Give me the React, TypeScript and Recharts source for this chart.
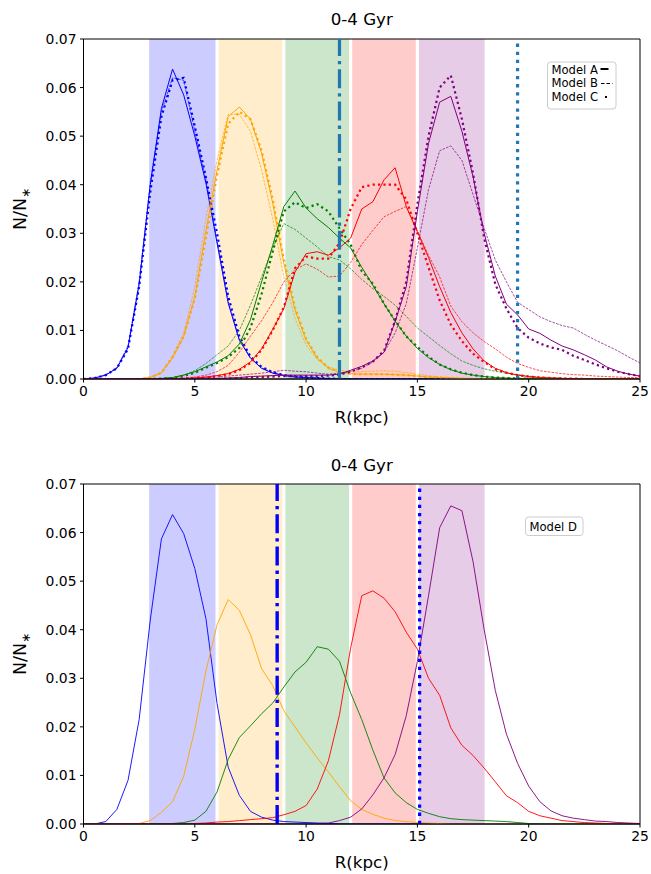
import React from 'react';
import { LineChart, Line, XAxis, YAxis, ReferenceArea, ReferenceLine } from 'recharts';

// radius grid (kpc)
const R = [0,0.5,1,1.5,2,2.5,3,3.5,4,4.5,5,5.5,6,6.5,7,7.5,8,8.5,9,9.5,10,10.5,11,11.5,12,12.5,13,13.5,14,14.5,15,15.5,16,16.5,17,17.5,18,18.5,19,19.5,20,20.5,21,21.5,22,22.5,23,23.5,24,24.5,25];

// ---------- top panel: Models A (solid), B (dashed), C (dotted) ----------
const blueA = [0,0.0002,0.0008,0.0022,0.0065,0.0195,0.040,0.0557,0.0638,0.0585,
  0.050,0.0403,0.028,0.0156,0.008,0.0043,0.0022,0.0012,0.0007,0.0004,
  0.0003,0.0002,0.0001,0,0,0,0,0,0,0, 0,0,0,0,0,0,0,0,0,0, 0,0,0,0,0,0,0,0,0,0, 0];
const blueB = [0,0.0002,0.0009,0.0024,0.0068,0.020,0.0405,0.055,0.062,0.0615,
  0.051,0.041,0.0285,0.016,0.0082,0.0044,0.0023,0.0013,0.0008,0.0005,
  0.0003,0.0002,0.0001,0,0,0,0,0,0,0, 0,0,0,0,0,0,0,0,0,0, 0,0,0,0,0,0,0,0,0,0, 0];
const blueC = [0,0.0002,0.0008,0.0022,0.0062,0.019,0.0385,0.054,0.0615,0.062,
  0.052,0.0415,0.030,0.017,0.0088,0.0046,0.0025,0.0014,0.0008,0.0005,
  0.0003,0.0002,0.0001,0,0,0,0,0,0,0, 0,0,0,0,0,0,0,0,0,0, 0,0,0,0,0,0,0,0,0,0, 0];

const orangeA = [0,0,0,0,0,0,0.0003,0.0012,0.0043,0.0087,
  0.017,0.0305,0.043,0.054,0.056,0.0535,0.0465,0.0362,0.0238,0.0142,
  0.008,0.0043,0.0022,0.0014,0.0011,0.001,0.001,0.001,0.0009,0.0008,
  0.0006,0.0004,0.0003,0.0002,0.0001,0,0,0,0,0, 0,0,0,0,0,0,0,0,0,0, 0];
const orangeB = [0,0,0,0,0,0,0.0004,0.0014,0.0048,0.0095,
  0.019,0.033,0.045,0.0545,0.0545,0.051,0.043,0.033,0.021,0.0125,
  0.007,0.004,0.0025,0.0018,0.0015,0.0015,0.0016,0.0017,0.0016,0.0013,
  0.001,0.0007,0.0004,0.0003,0.0002,0.0001,0,0,0,0, 0,0,0,0,0,0,0,0,0,0, 0];
const orangeC = [0,0,0,0,0,0,0.0003,0.0013,0.0045,0.0088,
  0.0165,0.029,0.042,0.0525,0.055,0.0535,0.047,0.037,0.0245,0.0148,
  0.0083,0.0045,0.0023,0.0014,0.0011,0.001,0.001,0.001,0.0009,0.0008,
  0.0006,0.0004,0.0003,0.0002,0.0001,0,0,0,0,0, 0,0,0,0,0,0,0,0,0,0, 0];

const greenA = [0,0,0,0,0,0,0,0.0001,0.0003,0.0008,
  0.0015,0.0025,0.0035,0.0048,0.0072,0.0122,0.020,0.0275,0.0355,0.0387,
  0.0352,0.033,0.0312,0.029,0.027,0.023,0.0193,0.0155,0.0119,0.0088,
  0.0063,0.0044,0.003,0.0019,0.0012,0.0008,0.0005,0.0003,0.0002,0.0001,
  0.0001,0,0,0,0,0,0,0,0,0, 0];
const greenB = [0,0,0,0,0,0,0,0.0001,0.0003,0.0008,
  0.0017,0.0032,0.005,0.0068,0.010,0.0152,0.021,0.027,0.032,0.0308,
  0.029,0.0272,0.0252,0.0245,0.0227,0.0205,0.0186,0.017,0.0152,0.0129,
  0.0105,0.0087,0.0069,0.0052,0.0037,0.0028,0.0021,0.0016,0.0012,0.0009,
  0.0006,0.0004,0.0003,0.0002,0.0001,0,0,0,0,0, 0];
const greenC = [0,0,0,0,0,0,0,0.0001,0.0002,0.0006,
  0.0013,0.0023,0.0033,0.0045,0.0064,0.0105,0.0175,0.0262,0.0345,0.0364,
  0.0352,0.036,0.0345,0.031,0.0277,0.0222,0.0196,0.0155,0.012,0.0088,
  0.0066,0.0046,0.003,0.002,0.0013,0.0008,0.0005,0.0003,0.0002,0.0001,
  0.0001,0,0,0,0,0,0,0,0,0, 0];

const redA = [0,0,0,0,0,0,0,0,0,0.0001,
  0.0002,0.0004,0.0007,0.0011,0.002,0.0035,0.0062,0.0102,0.0145,0.022,
  0.0258,0.0262,0.0255,0.027,0.029,0.035,0.0365,0.041,0.0435,0.0355,
  0.0303,0.025,0.019,0.0137,0.0095,0.0062,0.0037,0.0022,0.0013,0.0008,
  0.0005,0.0003,0.0002,0.0001,0.0001,0,0,0,0,0, 0];
const redB = [0,0,0,0,0,0,0,0,0.0001,0.0002,
  0.0004,0.0008,0.0015,0.0028,0.0055,0.0088,0.012,0.0157,0.020,0.0225,
  0.0237,0.0226,0.021,0.0212,0.024,0.0277,0.0306,0.0334,0.0345,0.0355,
  0.0305,0.0255,0.021,0.015,0.0118,0.0095,0.0077,0.0062,0.0045,0.0032,
  0.0024,0.0017,0.0014,0.0011,0.0009,0.0008,0.0006,0.0005,0.0004,0.0003,
  0.0003];
const redC = [0,0,0,0,0,0,0,0,0,0.0001,
  0.0002,0.0003,0.0006,0.001,0.0018,0.0033,0.006,0.010,0.0148,0.0228,
  0.0252,0.0248,0.0248,0.028,0.035,0.0395,0.040,0.040,0.040,0.037,
  0.030,0.023,0.0162,0.0112,0.0078,0.0052,0.0035,0.002,0.0013,0.0008,
  0.0005,0.0003,0.0002,0.0001,0.0001,0,0,0,0,0, 0];

const purpleA = [0,0,0,0,0,0,0,0,0,0,
  0,0,0.0001,0.0002,0.0003,0.0005,0.0006,0.0007,0.0008,0.0008,
  0.0008,0.0008,0.0008,0.001,0.0018,0.0026,0.0037,0.0055,0.0118,0.019,
  0.0345,0.0485,0.057,0.0582,0.051,0.0416,0.030,0.0212,0.0154,0.0132,
  0.0103,0.0094,0.008,0.0068,0.006,0.005,0.0039,0.0025,0.0016,0.001,
  0.0006];
const purpleB = [0,0,0,0,0,0,0,0,0,0,
  0.0001,0.0002,0.0004,0.0006,0.0008,0.001,0.0012,0.0015,0.0018,0.0016,
  0.0015,0.0012,0.001,0.0012,0.0015,0.0022,0.0035,0.0055,0.0095,0.0155,
  0.027,0.039,0.047,0.048,0.045,0.038,0.031,0.0245,0.020,0.0158,
  0.0143,0.0128,0.0118,0.011,0.0105,0.0092,0.008,0.0069,0.0058,0.0045,
  0.0033];
const purpleC = [0,0,0,0,0,0,0,0,0,0,
  0,0,0,0.0001,0.0002,0.0003,0.0004,0.0005,0.0006,0.0006,
  0.0006,0.0006,0.0007,0.0009,0.0015,0.0024,0.0036,0.0058,0.012,0.020,
  0.036,0.050,0.060,0.0625,0.0535,0.0423,0.029,0.0195,0.0145,0.0105,
  0.0085,0.0073,0.0065,0.006,0.0048,0.0039,0.003,0.0022,0.0015,0.001,
  0.0006];

// ---------- bottom panel: Model D ----------
const blueD = [0,0,0.0005,0.003,0.009,0.0215,0.042,0.0587,0.0637,0.0598,
  0.0526,0.0423,0.0248,0.0117,0.0059,0.0026,0.0014,0.0008,0.0005,0.0004,
  0.0003,0.0002,0.0001,0,0,0,0,0,0,0, 0,0,0,0,0,0,0,0,0,0, 0,0,0,0,0,0,0,0,0,0, 0];
const orangeD = [0,0,0,0,0,0.0001,0.0007,0.0024,0.0046,0.0098,
  0.0195,0.0315,0.041,0.0462,0.044,0.039,0.032,0.0285,0.0233,0.020,
  0.0167,0.0136,0.0107,0.0077,0.0048,0.003,0.002,0.0012,0.0007,0.0005,
  0.0003,0.0002,0.0001,0,0,0,0,0,0,0, 0,0,0,0,0,0,0,0,0,0, 0];
const greenD = [0,0,0,0,0,0,0,0,0.0001,0.0003,
  0.0008,0.0026,0.0066,0.0133,0.0178,0.0202,0.0227,0.0249,0.0282,0.0313,
  0.0333,0.0365,0.036,0.0335,0.027,0.0215,0.0152,0.0095,0.0064,0.0044,
  0.003,0.0022,0.0015,0.0011,0.0009,0.0008,0.0007,0.0006,0.0005,0.0003,
  0.0001,0,0,0,0,0,0,0,0,0, 0];
const redD = [0,0,0,0,0,0,0,0,0,0,
  0.0001,0.0002,0.0004,0.0005,0.0007,0.0009,0.0011,0.0013,0.0019,0.0026,
  0.0038,0.0072,0.013,0.0225,0.0362,0.047,0.048,0.0465,0.0437,0.0395,
  0.036,0.030,0.0265,0.0198,0.0162,0.0141,0.0115,0.0087,0.0058,0.0044,
  0.0026,0.0017,0.0012,0.0007,0.0005,0.0003,0.0002,0.0001,0,0,
  0];
const purpleD = [0,0,0,0,0,0,0,0,0,0,
  0,0,0,0,0,0,0,0,0,0,
  0,0.0001,0.0002,0.0007,0.0014,0.0031,0.006,0.0095,0.0143,0.0223,
  0.0335,0.047,0.061,0.0655,0.0645,0.054,0.040,0.0275,0.0185,0.0125,
  0.0078,0.0046,0.0027,0.0017,0.0012,0.0009,0.0006,0.0005,0.0003,0.0002,
  0.0001];

const xTicks = [0, 5, 10, 15, 20, 25];
const yTicks = [0, 0.01, 0.02, 0.03, 0.04, 0.05, 0.06, 0.07];
const ringEdges = [3, 6, 9, 12, 15, 18];
const ringColors = ['#ccccff', '#ffedcc', '#cce6cc', '#ffcccc', '#e6cce6'];
const lineColors = ['#0000ff', '#ffa500', '#008000', '#ff0000', '#800080'];
const titleText = '0-4 Gyr';
const xLabel = 'R(kpc)';

const topData = R.map((r, i) => ({
  r,
  bA: blueA[i], bB: blueB[i], bC: blueC[i],
  oA: orangeA[i], oB: orangeB[i], oC: orangeC[i],
  gA: greenA[i], gB: greenB[i], gC: greenC[i],
  rA: redA[i], rB: redB[i], rC: redC[i],
  pA: purpleA[i], pB: purpleB[i], pC: purpleC[i],
}));
const botData = R.map((r, i) => ({
  r, b: blueD[i], o: orangeD[i], g: greenD[i], rd: redD[i], p: purpleD[i],
}));

const FONT = 'DejaVu Sans, sans-serif';
const tickStyle = { fontSize: 13.9, fill: '#000', fontFamily: FONT };

const bands = () =>
  ringColors.map((c, i) => {
    const a = ringEdges[i];
    const b = ringEdges[i + 1];
    const x1 = i === 0 ? a - 0.05 : a + 0.07;
    const x2 = i === ringColors.length - 1 ? b + 0.02 : b - 0.07;
    return (
      <ReferenceArea key={'band' + i} x1={x1} x2={x2} y1={0} y2={0.07}
        fill={c} fillOpacity={1} stroke="none" ifOverflow="hidden" />
    );
  });

const axes = () => [
  <XAxis key="x" dataKey="r" type="number" domain={[0, 25]} ticks={xTicks}
    allowDataOverflow height={41} tickSize={3.5} tickMargin={3.5}
    tick={tickStyle} stroke="#000" interval={0} />,
  <YAxis key="y" type="number" domain={[0, 0.07]} ticks={yTicks} allowDataOverflow
    width={83.5} tickSize={3.5} tickMargin={3.5} tick={tickStyle} stroke="#000"
    interval={0} tickFormatter={(v: number) => v.toFixed(2)} />,
];

const frame = () => (
  <ReferenceArea key="frame" x1={0} x2={25} y1={0} y2={0.07} fill="none"
    fillOpacity={0} stroke="#000" strokeWidth={1} />
);

const series = (key: string, color: string, style: 'A' | 'B' | 'C' | 'D') => {
  const props: any = { strokeWidth: 1 };
  if (style === 'B') { props.strokeWidth = 0.7; props.strokeDasharray = '2.6 1.2'; }
  if (style === 'C') { props.strokeWidth = 2.2; props.strokeDasharray = '2.2 3.2'; }
  if (style === 'D') { props.strokeWidth = 0.9; }
  return (
    <Line key={key} dataKey={key} stroke={color} dot={false} activeDot={false}
      type="linear" isAnimationActive={false} {...props} />
  );
};

const W = 651;
const H = 420;
const margin = { top: 39, right: 11, bottom: 0, left: 0 };

export default function App() {
  const tops = ['b', 'o', 'g', 'r', 'p'];
  return (
    <div style={{ position: 'absolute', left: 0, top: 0, width: W, height: 874, background: '#fff', fontFamily: FONT }}>
      <div style={{ position: 'absolute', left: 0, top: 0 }}>
        <LineChart width={W} height={H} data={topData} margin={margin}>
          {bands()}
          {axes()}
          {tops.map((k, i) => [
            series(k + 'A', lineColors[i], 'A'),
            series(k + 'B', lineColors[i], 'B'),
            series(k + 'C', lineColors[i], 'C'),
          ])}
          <ReferenceLine x={11.5} stroke="#1f77b4" strokeWidth={3.2} strokeDasharray="19 5 3.3 5" />
          <ReferenceLine x={19.5} stroke="#1f77b4" strokeWidth={3.2} strokeDasharray="3.3 4.8" />
          {frame()}
        </LineChart>
      </div>
      <div style={{ position: 'absolute', left: 0, top: 445 }}>
        <LineChart width={W} height={H} data={botData} margin={margin}>
          {bands()}
          {axes()}
          {series('b', lineColors[0], 'D')}
          {series('o', lineColors[1], 'D')}
          {series('g', lineColors[2], 'D')}
          {series('rd', lineColors[3], 'D')}
          {series('p', lineColors[4], 'D')}
          <ReferenceLine x={8.7} stroke="#0000ff" strokeWidth={3.4} strokeDasharray="19 5 3.3 5" />
          <ReferenceLine x={15.1} stroke="#0000ff" strokeWidth={3.2} strokeDasharray="3.3 4.8" />
          {frame()}
        </LineChart>
      </div>
      <svg width={W} height={874} style={{ position: 'absolute', left: 0, top: 0, pointerEvents: 'none' }}
        fontFamily={FONT}>
        {/* titles */}
        <text x={361.75} y={24.5} fontSize={16.7} textAnchor="middle" fill="#000">{titleText}</text>
        <text x={361.75} y={470.5} fontSize={16.7} textAnchor="middle" fill="#000">{titleText}</text>
        {/* x labels */}
        <text x={361.75} y={423} fontSize={16.7} textAnchor="middle" fill="#000">{xLabel}</text>
        <text x={361.75} y={867.5} fontSize={16.7} textAnchor="middle" fill="#000">{xLabel}</text>
        {/* y labels */}
        <text transform="translate(26,209) rotate(-90)" fontSize={17.5} textAnchor="middle" fill="#000">
          N/N<tspan fontSize={12} dy={4}>∗</tspan>
        </text>
        <text transform="translate(26,654) rotate(-90)" fontSize={17.5} textAnchor="middle" fill="#000">
          N/N<tspan fontSize={12} dy={4}>∗</tspan>
        </text>
        {/* top legend */}
        <rect x={547.5} y={62} width={68.5} height={47} rx={3} ry={3} fill="#fff" fillOpacity={0.8} stroke="#cccccc" strokeWidth={1} />
        <text x={551.5} y={73.5} fontSize={11.6} fill="#000">Model A</text>
        <line x1={600.5} y1={69} x2={608.5} y2={69} stroke="#000" strokeWidth={2} />
        <text x={551.5} y={87.3} fontSize={11.6} fill="#000">Model B</text>
        <line x1={601} y1={83.5} x2={612.5} y2={83.5} stroke="#000" strokeWidth={1} strokeDasharray="3.5 2" />
        <text x={551.5} y={100.8} fontSize={11.6} fill="#000">Model C</text>
        <rect x={605} y={96} width={2} height={2} fill="#000" />
        {/* bottom legend */}
        <rect x={525.5} y={517} width={57.5} height={18.5} rx={3} ry={3} fill="#fff" fillOpacity={0.8} stroke="#cccccc" strokeWidth={1} />
        <text x={529.5} y={530.5} fontSize={11.6} fill="#000">Model D</text>
      </svg>
    </div>
  );
}
